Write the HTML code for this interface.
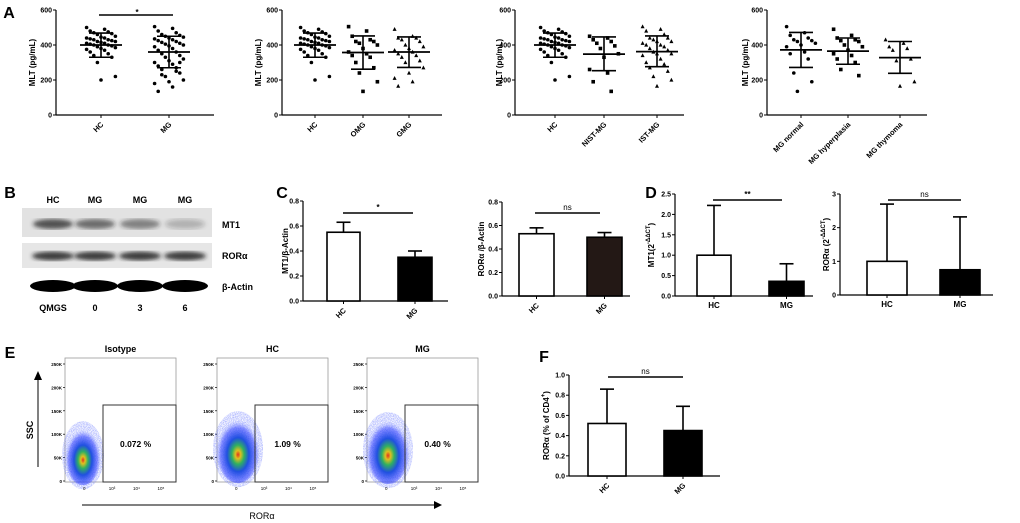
<!DOCTYPE html>
<html><head><meta charset="utf-8"><style>
html,body{margin:0;padding:0;background:#fff;}
svg{display:block;font-family:"Liberation Sans",Arial,sans-serif;}
</style></head><body>
<svg id="fig" width="1020" height="523" viewBox="0 0 1020 523" xmlns="http://www.w3.org/2000/svg">
<defs>
<radialGradient id="cloud" cx="50%" cy="58%" r="50%">
<stop offset="0" stop-color="#e03020"/><stop offset="0.12" stop-color="#e0c020"/><stop offset="0.28" stop-color="#30b060"/><stop offset="0.5" stop-color="#2050e0"/><stop offset="0.8" stop-color="#3040ff" stop-opacity="0.55"/><stop offset="1" stop-color="#8090ff" stop-opacity="0"/>
</radialGradient>
<filter id="blur1"><feGaussianBlur stdDeviation="2.2"/></filter>
<filter id="speck"><feTurbulence type="fractalNoise" baseFrequency="1.2" numOctaves="1" result="n"/><feColorMatrix in="n" type="matrix" values="0 0 0 0 1 0 0 0 0 1 0 0 0 0 1 0 0 0 -1.6 1.1" result="m"/><feComposite in="SourceGraphic" in2="m" operator="in"/></filter>
</defs>
</svg>
<script>
// ---------- data ----------
const hcVals=[500,490,480,475,470,465,460,450,445,440,440,435,430,430,425,420,420,415,410,410,405,400,400,395,390,385,380,375,370,360,350,340,330,300,220,200];
const mgVals=[505,495,480,470,460,455,450,445,440,435,430,425,420,415,410,405,400,395,390,380,370,360,350,340,330,320,310,300,290,280,270,260,240,220,200,190,180,160,135,250,230,300];
const omgVals=[505,480,450,430,420,420,410,400,380,360,350,340,330,300,270,240,190,135];
const gmgVals=[490,450,440,440,430,420,400,390,380,370,360,350,340,330,310,300,270,240,210,190,165];
const nistVals=[450,440,430,420,410,395,380,350,330,260,240,190,135];
const istVals=[505,490,480,460,440,440,430,420,420,410,400,400,390,380,370,360,350,350,340,320,300,290,270,250,220,200,165];
const normVals=[505,470,455,440,430,425,420,410,400,390,360,350,320,240,190,135];
const hypVals=[490,455,440,430,425,420,400,390,370,350,340,320,300,260,225];
const thyVals=[430,410,390,380,370,320,310,190,165];
const aStats={HC:[400,330,468],MG:[360,270,450],OMG:[357,262,452],GMG:[360,272,446],NIST:[348,253,446],IST:[362,276,452],NORM:[372,272,472],HYP:[365,290,440],THY:[328,238,420]};
const cCats=["HC","MG"];
const cMT1=[0.55,0.35], cMT1Err=[0.63,0.40];
const cROR=[0.53,0.50], cRORErr=[0.58,0.54];
const dMT1=[1.0,0.36], dMT1Err=[2.22,0.79];
const dROR=[1.0,0.75], dRORErr=[2.7,2.32];
const fVals=[0.52,0.45], fErr=[0.86,0.69];
const flowTitles=["Isotype","HC","MG"];
const flowPct=["0.072 %","1.09 %","0.40 %"];
const flowCenterK=[55,68,66];
const flowTicks=["250K","200K","150K","100K","50K","0"];

// ---------- helpers ----------
const svg=document.getElementById('fig');
const NS="http://www.w3.org/2000/svg";
function mk(tag,attrs,name,parent){
  const el=document.createElementNS(NS,tag);
  for(const k in attrs) el.setAttribute(k,attrs[k]);
  
  
  (parent||svg).appendChild(el);
  return el;
}
function txt(x,y,s,name,opt){
  opt=opt||{};
  const t=mk('text',{x:x,y:y,'font-size':opt.size||8,'font-weight':opt.w||'bold','text-anchor':opt.anchor||'middle',fill:opt.fill||'#000'},name);
  if(opt.rot!==undefined) t.setAttribute('transform','rotate('+opt.rot+' '+x+' '+y+')');
  t.textContent=s;
  return t;
}
function line(x1,y1,x2,y2,name,w,c){return mk('line',{x1:x1,y1:y1,x2:x2,y2:y2,stroke:c||'#000','stroke-width':w||1.3},name);}

function axisY(ax,yTop,yBot,max,ticks,labels,name){
  line(ax,yTop,ax,yBot,name+'-y-axis',1.2);
  ticks.forEach((v,i)=>{
    const y=yBot-(v/max)*(yBot-yTop);
    line(ax-3,y,ax,y,name+'-y-tick',1);
    txt(ax-4,y+2.5,labels[i],name+'-y-tick-label',{size:7,anchor:'end'});
  });
  return v=>yBot-(v/max)*(yBot-yTop);
}

// ---------- panel A ----------
function scatterPanel(cfg){
  const {ax,right,yTop,yBot,cats,xs,vals,stats,marker,name,ylx}=cfg;
  const Y=axisY(ax,yTop,yBot,600,[0,200,400,600],["0","200","400","600"],name);
  line(ax,yBot,right,yBot,name+'-x-axis',1.2);
  txt(ylx,(yTop+yBot)/2,'MLT (pg/mL)',name+'-y-axis-title',{size:8,rot:-90});
  cats.forEach((c,ci)=>{
    const x=xs[ci];
    line(x,yBot,x,yBot+3,name+'-x-tick',1);
    txt(x+3,yBot+10,c,name+'-x-label',{size:7.5,anchor:'end',rot:-45});
    vals[ci].forEach((v,i)=>{
      const off=(((i*5)%9)-4)*3.6;
      const px=x+off, py=Y(v);
      const m=marker[ci];
      if(m==='c') mk('circle',{cx:px,cy:py,r:1.8,fill:'#000'},name+'-point-'+c);
      else if(m==='s') mk('rect',{x:px-1.8,y:py-1.8,width:3.6,height:3.6,fill:'#000'},name+'-point-'+c);
      else mk('polygon',{points:(px)+','+(py-2.2)+' '+(px-2)+','+(py+1.6)+' '+(px+2)+','+(py+1.6),fill:'#000'},name+'-point-'+c);
    });
    const s=stats[ci];
    line(x-21,Y(s[0]),x+21,Y(s[0]),name+'-mean-'+c,1.8);
    line(x,Y(s[1]),x,Y(s[2]),name+'-sd-'+c,1.6);
    line(x-12,Y(s[1]),x+12,Y(s[1]),name+'-sd-low-'+c,1.6);
    line(x-12,Y(s[2]),x+12,Y(s[2]),name+'-sd-high-'+c,1.6);
  });
}
txt(9,18,'A','panel-label-a',{size:16});
scatterPanel({ax:56,right:214,yTop:10,yBot:115,cats:["HC","MG"],xs:[101,169],vals:[hcVals,mgVals],stats:[aStats.HC,aStats.MG],marker:['c','c'],name:'a1',ylx:35});
line(99,15,173,15,'a1-significance-bar',1.5);txt(137,15,'*','a1-significance-star',{size:8});
scatterPanel({ax:282,right:442,yTop:10,yBot:115,cats:["HC","OMG","GMG"],xs:[315,363,409],vals:[hcVals,omgVals,gmgVals],stats:[aStats.HC,aStats.OMG,aStats.GMG],marker:['c','s','t'],name:'a2',ylx:261});
scatterPanel({ax:515,right:684,yTop:10,yBot:115,cats:["HC","NIST-MG","IST-MG"],xs:[555,604,657],vals:[hcVals,nistVals,istVals],stats:[aStats.HC,aStats.NIST,aStats.IST],marker:['c','s','t'],name:'a3',ylx:502});
scatterPanel({ax:767,right:927,yTop:10,yBot:115,cats:["MG normal","MG hyperplasia","MG thymoma"],xs:[801,848,900],vals:[normVals,hypVals,thyVals],stats:[aStats.NORM,aStats.HYP,aStats.THY],marker:['c','s','t'],name:'a4',ylx:748});

// ---------- panel B ----------
txt(10,198,'B','panel-label-b',{size:16});
const laneX=[53,95,140,185];
["HC","MG","MG","MG"].forEach((s,i)=>txt(laneX[i],203,s,'blot-lane-label',{size:9}));
mk('rect',{x:22,y:208,width:190,height:29,fill:'#e2e2e2'},'blot-mt1-membrane');
mk('rect',{x:22,y:243,width:190,height:25,fill:'#e6e6e6'},'blot-ror-membrane');
const mt1Int=[0.75,0.6,0.5,0.25];
laneX.forEach((x,i)=>mk('ellipse',{cx:x,cy:224,rx:20,ry:5,fill:'#222','fill-opacity':mt1Int[i],filter:'url(#blur1)'},'blot-band-mt1'));
laneX.forEach((x,i)=>mk('ellipse',{cx:x,cy:256,rx:21,ry:4.5,fill:'#222','fill-opacity':0.85,filter:'url(#blur1)'},'blot-band-ror'));
laneX.forEach((x,i)=>mk('ellipse',{cx:x,cy:286,rx:23,ry:6,fill:'#000'},'blot-band-actin'));
txt(222,228,'MT1','blot-label-mt1',{size:9,anchor:'start'});
txt(222,259,'RORα','blot-label-ror',{size:9,anchor:'start'});
txt(222,290,'β-Actin','blot-label-actin',{size:9,anchor:'start'});
["QMGS","0","3","6"].forEach((s,i)=>txt(laneX[i],311,s,'blot-qmgs-label',{size:9}));

// ---------- bar panels ----------
function barPanel(cfg){
  const {ax,right,yTop,yBot,max,ticks,labels,vals,errs,bars,fills,name,ylab,ylx,rotX,sig,sigY,sigX}=cfg;
  const Y=axisY(ax,yTop,yBot,max,ticks,labels,name);
  line(ax,yBot,right,yBot,name+'-x-axis',1.2);
  cCats.forEach((c,i)=>{
    const [x0,x1]=bars[i], xm=(x0+x1)/2;
    line(xm,Y(errs[i]),xm,Y(vals[i]),name+'-error-'+c,1.6);
    line(xm-7,Y(errs[i]),xm+7,Y(errs[i]),name+'-error-cap-'+c,1.6);
    mk('rect',{x:x0,y:Y(vals[i]),width:x1-x0,height:yBot-Y(vals[i]),fill:fills[i],stroke:'#000','stroke-width':1.6},name+'-bar-'+c);
    line(xm,yBot,xm,yBot+3,name+'-x-tick',1);
    if(rotX) txt(xm+3,yBot+10,c,name+'-x-label',{size:7.5,anchor:'end',rot:-45});
    else txt(xm,yBot+12,c,name+'-x-label',{size:8});
  });
  line(sigX[0],sigY,sigX[1],sigY,name+'-significance-bar',1.5);
  txt((sigX[0]+sigX[1])/2,sigY-3,sig,name+'-significance-label',{size:8,w:sig==='ns'?'normal':'bold'});
  const t=txt(ylx,(yTop+yBot)/2,'',name+'-y-axis-title',{size:8,rot:-90});
  t.innerHTML=ylab;
}
txt(282,198,'C','panel-label-c',{size:16});
barPanel({ax:303,right:448,yTop:201,yBot:301,max:0.8,ticks:[0,0.2,0.4,0.6,0.8],labels:["0.0","0.2","0.4","0.6","0.8"],vals:cMT1,errs:cMT1Err,bars:[[327,360],[398,432]],fills:['#fff','#000'],name:'c1',ylab:'MT1/β-Actin',ylx:288,rotX:true,sig:'*',sigY:213,sigX:[343,413]});
barPanel({ax:502,right:630,yTop:202,yBot:296,max:0.8,ticks:[0,0.2,0.4,0.6,0.8],labels:["0.0","0.2","0.4","0.6","0.8"],vals:cROR,errs:cRORErr,bars:[[519,554],[587,622]],fills:['#fff','#231815'],name:'c2',ylab:'RORα /β-Actin',ylx:484,rotX:true,sig:'ns',sigY:213,sigX:[535,600]});
txt(651,198,'D','panel-label-d',{size:16});
barPanel({ax:675,right:813,yTop:194,yBot:296,max:2.5,ticks:[0,0.5,1,1.5,2,2.5],labels:["0.0","0.5","1.0","1.5","2.0","2.5"],vals:dMT1,errs:dMT1Err,bars:[[697,731],[769,804]],fills:['#fff','#000'],name:'d1',ylab:'MT1(2<tspan font-size="6" dy="-4">-ΔΔCT</tspan><tspan dy="4">)</tspan>',ylx:654,rotX:false,sig:'**',sigY:200,sigX:[713,782]});
barPanel({ax:840,right:993,yTop:194,yBot:295,max:3,ticks:[0,1,2,3],labels:["0","1","2","3"],vals:dROR,errs:dRORErr,bars:[[867,907],[940,980]],fills:['#fff','#000'],name:'d2',ylab:'RORα (2<tspan font-size="6" dy="-4">-ΔΔCT</tspan><tspan dy="4">)</tspan>',ylx:829,rotX:false,sig:'ns',sigY:200,sigX:[888,961]});
txt(544,362,'F','panel-label-f',{size:16});
barPanel({ax:569,right:720,yTop:375,yBot:476,max:1,ticks:[0,0.2,0.4,0.6,0.8,1],labels:["0.0","0.2","0.4","0.6","0.8","1.0"],vals:fVals,errs:fErr,bars:[[588,626],[664,702]],fills:['#fff','#000'],name:'f',ylab:'RORα (% of CD4<tspan font-size="6" dy="-4">+</tspan><tspan dy="4">)</tspan>',ylx:549,rotX:true,sig:'ns',sigY:377,sigX:[608,683]});

// ---------- panel E ----------
txt(10,358,'E','panel-label-e',{size:16});
const flowX=[65,217,367];
flowX.forEach((fx,i)=>{
  const top=358,bot=482,w=111;
  mk('rect',{x:fx,y:top,width:w,height:bot-top,fill:'none',stroke:'#999','stroke-width':0.8},'flow-frame-'+flowTitles[i]);
  txt(fx+w/2,352,flowTitles[i],'flow-title',{size:9});
  flowTicks.forEach((t,k)=>{
    const y=top+6+k*((bot-1-top-6)/5);
    line(fx-2,y,fx,y,'flow-y-tick',0.7);
    txt(fx-3,y+2,t,'flow-y-tick-label',{size:4.5,anchor:'end'});
  });
  const cy=bot-1-(flowCenterK[i]/250)*(bot-1-top-6);
  const rx=i?22:18, ry=i?34:30;
  mk('ellipse',{cx:fx+18+(i?3:0),cy:cy,rx:rx+3,ry:ry+4,fill:'#4a5cff','fill-opacity':0.7,filter:'url(#speck)'},'flow-density-halo');
  mk('ellipse',{cx:fx+18+(i?3:0),cy:cy,rx:rx,ry:ry,fill:'url(#cloud)'},'flow-density-cloud');
  mk('rect',{x:fx+38,y:405,width:w-38,height:bot-405,fill:'none',stroke:'#333','stroke-width':1},'flow-gate');
  txt(fx+w*0.6+4,447,flowPct[i],'flow-gate-percent',{size:8.5});
  [["0",0.3],["10³",0.55],["10⁴",0.77],["10⁵",0.99]].forEach(a=>txt(fx+w*a[1]-14,490,a[0],'flow-x-tick-label',{size:4.5,w:'normal'}));
});
line(38,467,38,378,'ssc-arrow-line',1);
mk('polygon',{points:'34,380 42,380 38,371'},'ssc-arrow-head');
txt(33,430,'SSC','ssc-axis-title',{size:9,rot:-90});
line(82,505,436,505,'ror-arrow-line',1);
mk('polygon',{points:'434,501 434,509 442,505'},'ror-arrow-head');
txt(262,519,'RORα','ror-axis-title',{size:9,w:'normal'});
</script>
</body></html>
